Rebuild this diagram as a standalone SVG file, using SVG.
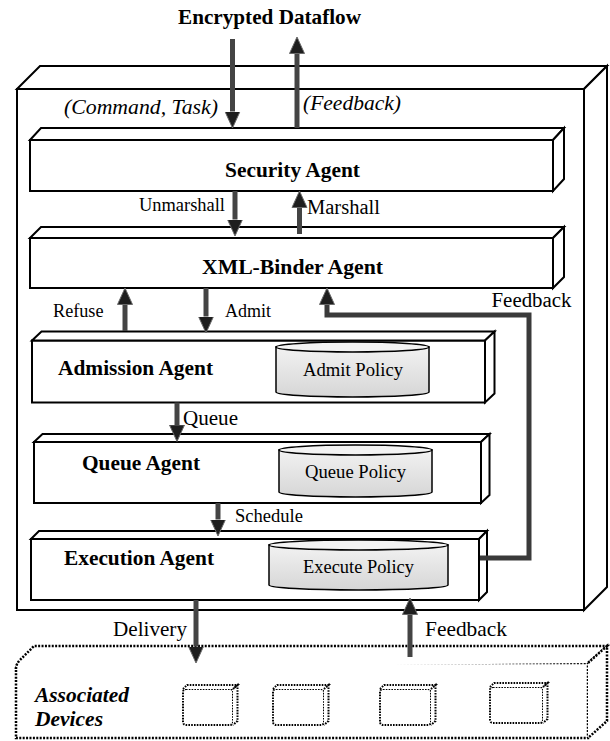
<svg xmlns="http://www.w3.org/2000/svg" width="610" height="741" viewBox="0 0 610 741">
<style>
.bx{fill:#fff;stroke:#000;stroke-width:2;stroke-linejoin:miter}
.cyl{fill:url(#cg);stroke:#000;stroke-width:1.5}
.cyltop{fill:#f3f3f3;stroke:#000;stroke-width:1.5}
.dot{fill:#fff;stroke:#000;stroke-width:2.5;stroke-dasharray:2 1.4}
.dots{fill:#fff;stroke:#000;stroke-width:2;stroke-dasharray:1.6 1.2}
.t{font-family:"Liberation Serif","Times New Roman",serif;fill:#000}
.b{font-weight:bold}
.i{font-style:italic}
.ar{fill:none;stroke:#444;stroke-width:5;marker-end:url(#ah)}
.fb{fill:none;stroke:#3a3a3a;stroke-width:5;stroke-linejoin:miter;marker-end:url(#ah)}
</style>
<defs>
<linearGradient id="cg" x1="0" y1="0" x2="0" y2="1">
<stop offset="0" stop-color="#f2f2f2"/>
<stop offset="1" stop-color="#d6d6d6"/>
</linearGradient>
<marker id="ah" markerUnits="userSpaceOnUse" markerWidth="18" markerHeight="18" viewBox="0 0 18 18" refX="0" refY="9" orient="auto">
<path d="M0,1.5 L16.5,9 L0,16.5 z" fill="#1e1e1e" stroke="#6a6a6a" stroke-width="1"/>
</marker>
</defs>

<text class="t b" x="178" y="23.5" font-size="21" textLength="183" lengthAdjust="spacingAndGlyphs">Encrypted Dataflow</text>

<g id="outer-box">
<rect class="bx" x="17" y="89" width="567" height="521"/>
<polygon class="bx" points="17,89 40,66 607,66 584,89"/>
<polygon class="bx" points="584,89 607,66 607,587 584,610"/>
</g>

<text class="t i" x="64" y="114" font-size="21" textLength="154" lengthAdjust="spacingAndGlyphs">(Command, Task)</text>
<text class="t i" x="303" y="109.5" font-size="21" textLength="98" lengthAdjust="spacingAndGlyphs">(Feedback)</text>

<g id="security-agent">
<rect class="bx" x="30" y="140" width="523" height="51"/>
<polygon class="bx" points="30,140 41,128 564,128 553,140"/>
<polygon class="bx" points="553,140 564,128 564,179 553,191"/>
<text class="t b" x="225" y="176.5" font-size="21" textLength="135" lengthAdjust="spacingAndGlyphs">Security Agent</text>
</g>

<text class="t" x="139" y="211" font-size="18" textLength="86" lengthAdjust="spacingAndGlyphs">Unmarshall</text>
<text class="t" x="307" y="214" font-size="20.5" textLength="73" lengthAdjust="spacingAndGlyphs">Marshall</text>

<g id="xml-binder-agent">
<rect class="bx" x="30" y="238" width="523" height="50"/>
<polygon class="bx" points="30,238 41,227 564,227 553,238"/>
<polygon class="bx" points="553,238 564,227 564,277 553,288"/>
<text class="t b" x="202" y="273.5" font-size="20.5" textLength="181" lengthAdjust="spacingAndGlyphs">XML-Binder Agent</text>
</g>

<text class="t" x="53" y="316.5" font-size="18" textLength="50.5" lengthAdjust="spacingAndGlyphs">Refuse</text>
<text class="t" x="225" y="316.5" font-size="18" textLength="46" lengthAdjust="spacingAndGlyphs">Admit</text>
<text class="t" x="491.5" y="307" font-size="20.5" textLength="80" lengthAdjust="spacingAndGlyphs">Feedback</text>

<g id="admission-agent">
<rect class="bx" x="32" y="340.5" width="453" height="62"/>
<polygon class="bx" points="32,340.5 41.5,331.5 494.5,331.5 485,340.5"/>
<polygon class="bx" points="485,340.5 494.5,331.5 494.5,393.5 485,402.5"/>
<text class="t b" x="58" y="375" font-size="21" textLength="155" lengthAdjust="spacingAndGlyphs">Admission Agent</text>
<g id="admit-policy">
<path class="cyl" d="M276,347 L276,392 A76.5,5 0 0 0 429,392 L429,347 z"/>
<ellipse class="cyltop" cx="352.5" cy="347" rx="76.5" ry="5"/>
<text class="t" x="303" y="376" font-size="18.5" textLength="100" lengthAdjust="spacingAndGlyphs">Admit Policy</text>
</g>
</g>

<text class="t" x="183" y="424.5" font-size="21" textLength="55" lengthAdjust="spacingAndGlyphs">Queue</text>

<g id="queue-agent">
<rect class="bx" x="34" y="442" width="447" height="61"/>
<polygon class="bx" points="34,442 42.5,434 489.5,434 481,442"/>
<polygon class="bx" points="481,442 489.5,434 489.5,495 481,503"/>
<text class="t b" x="82" y="470" font-size="21" textLength="118" lengthAdjust="spacingAndGlyphs">Queue Agent</text>
<g id="queue-policy">
<path class="cyl" d="M279,450 L279,492 A76.5,5 0 0 0 432,492 L432,450 z"/>
<ellipse class="cyltop" cx="355.5" cy="450" rx="76.5" ry="5"/>
<text class="t" x="305" y="477.5" font-size="18.5" textLength="101" lengthAdjust="spacingAndGlyphs">Queue Policy</text>
</g>
</g>

<text class="t" x="235" y="521.5" font-size="18.5" textLength="68" lengthAdjust="spacingAndGlyphs">Schedule</text>

<g id="execution-agent">
<rect class="bx" x="31" y="539" width="448" height="61"/>
<polygon class="bx" points="31,539 39,531 487,531 479,539"/>
<polygon class="bx" points="479,539 487,531 487,592 479,600"/>
<text class="t b" x="64" y="565" font-size="21" textLength="150" lengthAdjust="spacingAndGlyphs">Execution Agent</text>
<g id="execute-policy">
<path class="cyl" d="M269,545 L269,585 A89.5,5 0 0 0 448,585 L448,545 z"/>
<ellipse class="cyltop" cx="358.5" cy="545" rx="89.5" ry="5"/>
<text class="t" x="303" y="572.5" font-size="18.5" textLength="111" lengthAdjust="spacingAndGlyphs">Execute Policy</text>
</g>
</g>

<text class="t" x="113" y="635.5" font-size="21" textLength="74" lengthAdjust="spacingAndGlyphs">Delivery</text>
<text class="t" x="425" y="636" font-size="21" textLength="82" lengthAdjust="spacingAndGlyphs">Feedback</text>

<g id="associated-devices">
<path class="dot" d="M16,669 Q16,663 22,663 L588,663 L588,738 L16,738 z"/>
<path class="dot" d="M16,669 Q16,664 20,660 L34,646 L607,646 L588,663"/>
<path class="dot" d="M588,663 L607,646 L607,721 L588,738"/>
<text class="t b i" x="35" y="701.5" font-size="21" textLength="94" lengthAdjust="spacingAndGlyphs">Associated</text>
<text class="t b i" x="35" y="725.5" font-size="21" textLength="68" lengthAdjust="spacingAndGlyphs">Devices</text>
<g id="device-1">
<rect class="dots" x="183" y="689" width="50" height="36" rx="3"/>
<path class="dots" d="M183,689 L187,685 L237.5,685 L233,689 M233,689 L237.5,685 L237.5,721 L233,725"/>
</g>
<g id="device-2">
<rect class="dots" x="273" y="689" width="51" height="36" rx="3"/>
<path class="dots" d="M273,689 L277,685 L328.5,685 L324,689 M324,689 L328.5,685 L328.5,721 L324,725"/>
</g>
<g id="device-3">
<rect class="dots" x="380" y="689" width="51" height="36" rx="3"/>
<path class="dots" d="M380,689 L384,685 L435.5,685 L431,689 M431,689 L435.5,685 L435.5,721 L431,725"/>
</g>
<g id="device-4">
<rect class="dots" x="490" y="687" width="53" height="36" rx="3"/>
<path class="dots" d="M490,687 L494,683 L547.5,683 L543,687 M543,687 L547.5,683 L547.5,719 L543,723"/>
</g>
</g>

<g id="connectors">
<line class="ar" x1="232.5" y1="39" x2="232.5" y2="111.5"/>
<line class="ar" x1="297" y1="128" x2="297" y2="53.5"/>
<line class="ar" x1="235" y1="191" x2="235" y2="219.5"/>
<line class="ar" x1="299.5" y1="234" x2="299.5" y2="207.5"/>
<line class="ar" x1="125" y1="331" x2="125" y2="304.5"/>
<line class="ar" x1="206" y1="288" x2="206" y2="316.5"/>
<polyline class="fb" points="480,558 529,558 529,315 327,315 327,304.5"/>
<line class="ar" x1="177" y1="402.5" x2="177" y2="425"/>
<line class="ar" x1="218" y1="503" x2="218" y2="519.5"/>
<line class="ar" x1="196" y1="600" x2="196" y2="646.5"/>
<line class="ar" x1="410" y1="657" x2="410" y2="614.5"/>
</g>
</svg>
